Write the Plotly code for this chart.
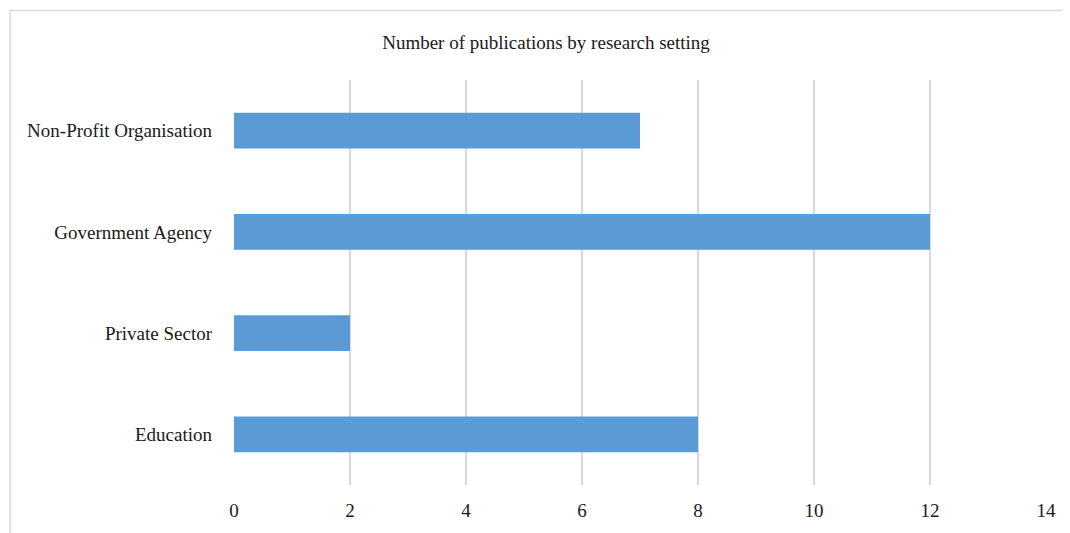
import plotly.graph_objects as go

categories = ["Education", "Private Sector", "Government Agency", "Non-Profit Organisation"]
values = [8, 2, 12, 7]
x_ticks = [0, 2, 4, 6, 8, 10, 12, 14]

OFF = 8  # page body margin
W, H = 1070 - OFF, 533 - OFF
L, R, T, B = 234 - OFF, 24, 80 - OFF, 45
pw, ph = W - L - R, H - T - B

fig = go.Figure(go.Bar(
    y=categories, x=values, orientation="h",
    marker=dict(color="#5B9BD5", line=dict(width=0)),
    hoverinfo="skip",
))

font_family = "Liberation Serif, Times New Roman, serif"

fig.update_layout(
    width=W, height=H,
    margin=dict(l=L, r=R, t=T, b=B),
    paper_bgcolor="white", plot_bgcolor="white",
    font=dict(family=font_family, size=19, color="#1a1a1a"),
    title=dict(text="Number of publications by research setting",
               x=(546 - OFF) / W, xanchor="center", y=1 - (42 - OFF) / H, yanchor="middle",
               font=dict(family=font_family, size=19, color="#1a1a1a")),
    bargap=0.645,
    showlegend=False,
    xaxis=dict(range=[0, 14], tickvals=x_ticks, showgrid=True, gridcolor="#d9d9d9",
               gridwidth=1.5, zeroline=False, showline=False, ticks="",
               ticklabelstandoff=12, tickfont=dict(size=19, color="#1a1a1a")),
    yaxis=dict(showgrid=False, zeroline=False, showline=False, ticks="",
               ticklabelstandoff=21, tickfont=dict(size=19, color="#1a1a1a")),
    shapes=[dict(type="rect", xref="paper", yref="paper",
                 x0=(10 - 234) / pw, x1=(1100 - 234) / pw,
                 y0=(488 - 560) / ph, y1=(488 - 10) / ph,
                 line=dict(color="#d9d9d9", width=1.5), fillcolor="rgba(0,0,0,0)",
                 layer="below")],
)

fig.write_html("out.html")
